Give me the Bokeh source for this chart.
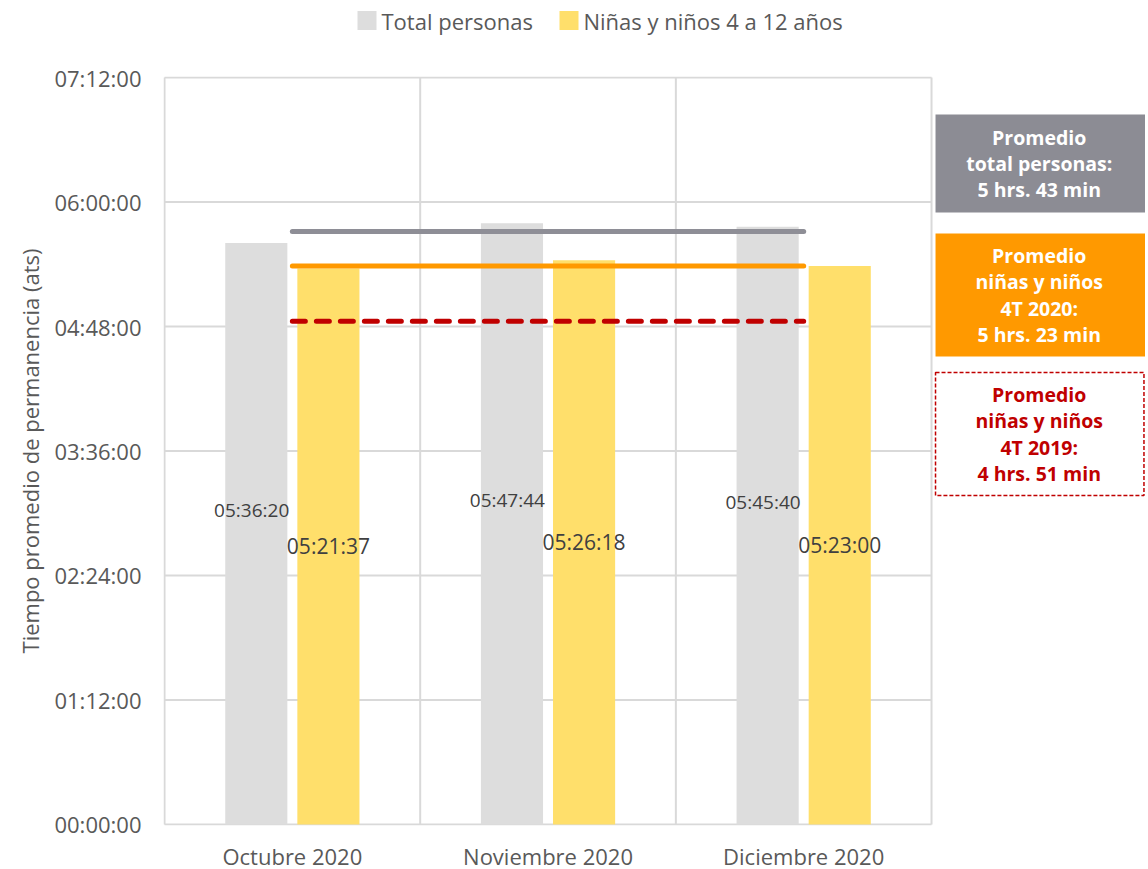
from bokeh.plotting import figure
from bokeh.layouts import column
from bokeh.models import Range1d, FixedTicker
from bokeh.core.properties import value
from bokeh.embed import file_html
from bokeh.resources import INLINE

# ---------------- data ----------------
months = ["Octubre 2020", "Noviembre 2020", "Diciembre 2020"]
series_names = ["Total personas", "Niñas y niños 4 a 12 años"]
total_personas = ["05:36:20", "05:47:44", "05:45:40"]
ninos_4_12 = ["05:21:37", "05:26:18", "05:23:00"]
avg_values = ["05:43:00", "05:23:00", "04:51:00"]
avg_labels = [
    "Promedio\ntotal personas:\n5 hrs. 43 min",
    "Promedio\nniñas y niños\n4T 2020:\n5 hrs. 23 min",
    "Promedio\nniñas y niños\n4T 2019:\n4 hrs. 51 min",
]
y_tick_labels = ["00:00:00", "01:12:00", "02:24:00", "03:36:00",
                 "04:48:00", "06:00:00", "07:12:00"]
y_axis_title = "Tiempo promedio de permanencia (ats)"


def to_sec(s):
    h, m, x = map(int, s.split(":"))
    return h * 3600 + m * 60 + x


# ---------------- styles ----------------
FONT = "Open Sans"
GRAY_BAR = "#DDDDDD"
YELLOW_BAR = "#FFDF6B"
GRID = "#D9D9D9"
TXT = "#595959"
LINE_COLORS = ["#8E8E96", "#FF9900", "#C00000"]
BOX_FILL = ["#8C8C94", "#FF9900"]
BOX_TEXT = ["#FFFFFF", "#FFFFFF", "#C00000"]

TOTAL_W = 1145
LEG_H = 60
BORDER_L = 163
PX_PER_CAT = 767 / 3.0
FRAME_W = TOTAL_W - BORDER_L
X_START = 0.496
X_END = X_START + FRAME_W / PX_PER_CAT
Y_TICKS = [to_sec(t) for t in y_tick_labels]
Y_MAX = Y_TICKS[-1]
Y_START, Y_END = -35, Y_MAX + 35
FRAME_H = 749

xc = [i + 1 for i in range(len(months))]
tot_s = [to_sec(v) for v in total_personas]
kid_s = [to_sec(v) for v in ninos_4_12]
avg_s = [to_sec(v) for v in avg_values]

# ---------------- legend strip (pixel coordinates, frame aligned with chart) ----------------
lg = figure(frame_width=FRAME_W, frame_height=LEG_H,
            min_border_left=BORDER_L, min_border_right=0,
            min_border_top=0, min_border_bottom=0,
            x_range=Range1d(BORDER_L, TOTAL_W), y_range=Range1d(0, LEG_H),
            output_backend="svg", toolbar_location=None)
lg.axis.visible = False
lg.grid.visible = False
lg.outline_line_color = None
LEG_SWATCH_X = [357, 559]
LEG_Y = 40
SW = 19
lg.rect(x=[x + SW / 2 for x in LEG_SWATCH_X], y=[LEG_Y] * 2, width=SW, height=SW,
        fill_color=[GRAY_BAR, YELLOW_BAR], line_color=None)
lg.text(x=[x + SW + 5 for x in LEG_SWATCH_X], y=[LEG_Y] * 2, text=series_names,
        text_align="left", text_baseline="middle", text_font=value(FONT),
        text_font_size="22px", text_color=TXT)

# ---------------- main chart ----------------
p = figure(frame_width=FRAME_W, frame_height=FRAME_H,
           min_border_left=BORDER_L, min_border_right=0,
           min_border_top=16, min_border_bottom=40,
           x_range=Range1d(X_START, X_END), y_range=Range1d(Y_START, Y_END),
           output_backend="svg", toolbar_location=None)
p.outline_line_color = None
p.xgrid.visible = False
p.ygrid.visible = False

# grid lines (only over the category area)
p.segment(x0=[0.5] * len(Y_TICKS), x1=[len(months) + 0.5] * len(Y_TICKS),
          y0=Y_TICKS, y1=Y_TICKS, line_color=GRID, line_width=2)
vx = [i + 0.5 for i in range(len(months) + 1)]
p.segment(x0=vx, x1=vx, y0=[0] * len(vx), y1=[Y_MAX] * len(vx),
          line_color=GRID, line_width=2)

# bars
OFF, BW = 0.141, 0.243
p.vbar(x=[x - OFF for x in xc], top=tot_s, bottom=0, width=BW,
       fill_color=GRAY_BAR, line_color=None)
p.vbar(x=[x + OFF for x in xc], top=kid_s, bottom=0, width=BW,
       fill_color=YELLOW_BAR, line_color=None)

# average lines
for i, a in enumerate(avg_s):
    p.segment(x0=[xc[0]], x1=[xc[-1]], y0=[a], y1=[a],
              line_color=LINE_COLORS[i], line_width=5, line_cap="round",
              line_dash="13 11" if i == 2 else "solid")

# bar labels
p.text(x=[x - OFF - 0.018 for x in xc], y=[v * 0.54 for v in tot_s],
       text=total_personas, text_align="center", text_baseline="middle",
       text_font=value(FONT), text_font_size="19px", text_color="#404040")
p.text(x=[x + OFF for x in xc], y=[v * 0.5 for v in kid_s],
       text=ninos_4_12, text_align="center", text_baseline="middle",
       text_font=value(FONT), text_font_size="21px", text_color="#404040")

# right-side boxes
sec_per_px_ref = Y_MAX / 747.0
box_top_px = [114, 233, 372]
box_bot_px = [212, 356, 495]
b_top = [(824 - t) * sec_per_px_ref for t in box_top_px]
b_bot = [(824 - b) * sec_per_px_ref for b in box_bot_px]
b_left = 0.5 + (936 - 165) / PX_PER_CAT
b_right = X_END - 0.006
p.quad(left=[b_left] * 2, right=[X_END + 0.1] * 2, top=b_top[:2], bottom=b_bot[:2],
       fill_color=BOX_FILL, line_color=None)
p.quad(left=[b_left], right=[b_right], top=[b_top[2]], bottom=[b_bot[2]],
       fill_color="white", line_color="#C00000", line_width=1.5, line_dash="4 2")
p.text(x=[(b_left + X_END) / 2 - 0.005] * 3, y=[(t + b) / 2 for t, b in zip(b_top, b_bot)],
       text=avg_labels, text_align="center", text_baseline="middle",
       text_font=value(FONT), text_font_style="bold", text_font_size="19.5px",
       text_color=BOX_TEXT, text_line_height=0.97)

# axes
p.xaxis.ticker = FixedTicker(ticks=xc)
p.xaxis.major_label_overrides = {x: m for x, m in zip(xc, months)}
p.xaxis.axis_line_color = None
p.xaxis.major_tick_line_color = None
p.xaxis.minor_tick_line_color = None
p.xaxis.major_label_standoff = 9
p.xaxis.major_label_text_font = FONT
p.xaxis.major_label_text_font_size = "22px"
p.xaxis.major_label_text_color = TXT

p.yaxis.ticker = FixedTicker(ticks=Y_TICKS)
p.yaxis.major_label_overrides = {t: l for t, l in zip(Y_TICKS, y_tick_labels)}
p.yaxis.axis_line_color = None
p.yaxis.major_tick_line_color = None
p.yaxis.minor_tick_line_color = None
p.yaxis.major_label_standoff = 16
p.yaxis.major_label_text_font = FONT
p.yaxis.major_label_text_font_size = "22px"
p.yaxis.major_label_text_color = TXT
p.yaxis.axis_label = y_axis_title
p.yaxis.axis_label_text_font = FONT
p.yaxis.axis_label_text_font_size = "22px"
p.yaxis.axis_label_text_font_style = "normal"
p.yaxis.axis_label_text_color = TXT
p.yaxis.axis_label_standoff = 6

layout = column(lg, p, spacing=0)
open("out.html", "w").write(file_html(layout, INLINE))
